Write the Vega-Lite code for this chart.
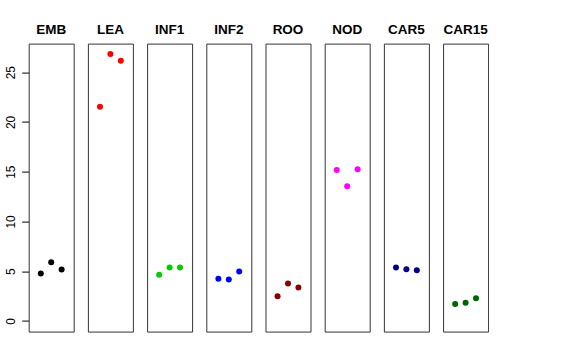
{
  "$schema": "https://vega.github.io/schema/vega-lite/v6.json",
  "padding": {"left": 4.7, "top": 22.6, "right": 0, "bottom": 0},
  "background": "white",
  "bounds": "flush",
  "data": {"values": [
    {"panel": "EMB", "x": 1, "y": 4.77},
    {"panel": "EMB", "x": 2, "y": 5.91},
    {"panel": "EMB", "x": 3, "y": 5.17},
    {"panel": "LEA", "x": 1, "y": 21.52},
    {"panel": "LEA", "x": 2, "y": 26.82},
    {"panel": "LEA", "x": 3, "y": 26.15},
    {"panel": "INF1", "x": 1, "y": 4.63},
    {"panel": "INF1", "x": 2, "y": 5.37},
    {"panel": "INF1", "x": 3, "y": 5.37},
    {"panel": "INF2", "x": 1, "y": 4.23},
    {"panel": "INF2", "x": 2, "y": 4.16},
    {"panel": "INF2", "x": 3, "y": 4.97},
    {"panel": "ROO", "x": 1, "y": 2.48},
    {"panel": "ROO", "x": 2, "y": 3.76},
    {"panel": "ROO", "x": 3, "y": 3.36},
    {"panel": "NOD", "x": 1, "y": 15.17},
    {"panel": "NOD", "x": 2, "y": 13.53},
    {"panel": "NOD", "x": 3, "y": 15.24},
    {"panel": "CAR5", "x": 1, "y": 5.37},
    {"panel": "CAR5", "x": 2, "y": 5.2},
    {"panel": "CAR5", "x": 3, "y": 5.1},
    {"panel": "CAR15", "x": 1, "y": 1.71},
    {"panel": "CAR15", "x": 2, "y": 1.84},
    {"panel": "CAR15", "x": 3, "y": 2.28}
  ]},
  "facet": {
    "column": {
      "field": "panel", "type": "nominal",
      "sort": ["EMB", "LEA", "INF1", "INF2", "ROO", "NOD", "CAR5", "CAR15"],
      "header": {
        "title": null,
        "labelFont": "Liberation Sans",
        "labelFontWeight": "bold",
        "labelFontSize": 13.5,
        "labelColor": "black",
        "labelBaseline": "alphabetic",
        "labelPadding": -4
      }
    }
  },
  "spacing": 14.2,
  "spec": {
    "width": 45,
    "height": 288,
    "mark": {"type": "circle", "size": 36, "opacity": 1},
    "encoding": {
      "x": {"field": "x", "type": "quantitative", "scale": {"domain": [-0.16, 4.16], "nice": false, "zero": false}, "axis": null},
      "y": {"field": "y", "type": "quantitative",
        "scale": {"domain": [-1.07, 27.87], "nice": false, "zero": false},
        "axis": {
          "title": null, "grid": false, "domain": false,
          "values": [0, 5, 10, 15, 20, 25],
          "tickSize": 7, "tickColor": "black",
          "labelAngle": 270, "labelAlign": "center", "labelBaseline": "bottom",
          "labelPadding": 4, "labelFont": "Liberation Sans", "labelFontSize": 12, "labelColor": "black"
        }
      },
      "color": {"field": "panel", "type": "nominal",
        "scale": {
          "domain": ["EMB", "LEA", "INF1", "INF2", "ROO", "NOD", "CAR5", "CAR15"],
          "range": ["#000000", "#FF0000", "#00CD00", "#0000FF", "#8B0000", "#FF00FF", "#00008B", "#006400"]
        },
        "legend": null
      }
    }
  },
  "resolve": {"scale": {"y": "shared"}},
  "config": {
    "view": {"stroke": "#333333", "strokeWidth": 1},
    "axis": {"grid": false}
  }
}
